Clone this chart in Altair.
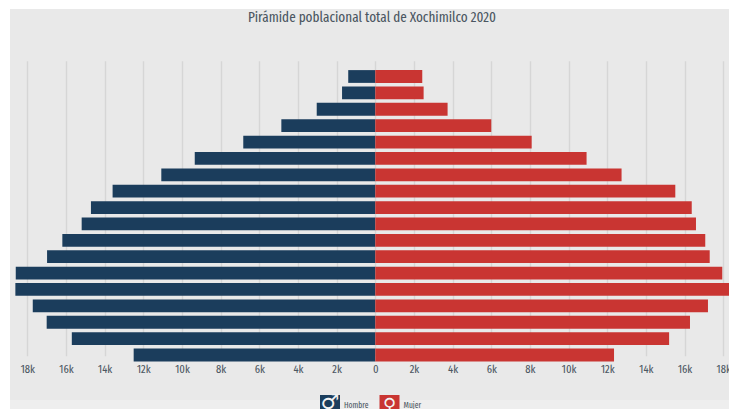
import altair as alt
import pandas as pd

FONT = "Fira Sans Extra Condensed"
INK = "#4b5661"
NAVY = "#1b3d5c"
RED = "#c93532"

age_groups = ["85+", "80-84", "75-79", "70-74", "65-69", "60-64", "55-59", "50-54", "45-49",
              "40-44", "35-39", "30-34", "25-29", "20-24", "15-19", "10-14", "5-9", "0-4"]
hombres = [1400, 1720, 3030, 4860, 6830, 9340, 11070, 13590, 14710,
           15190, 16190, 16980, 18600, 18620, 17720, 17000, 15700, 12500]
mujeres = [2430, 2500, 3740, 6000, 8090, 10930, 12740, 15520, 16370,
           16590, 17070, 17300, 17950, 18400, 17210, 16280, 15200, 12350]
tick_values = list(range(-18000, 18001, 2000))
chart_title = "Pirámide poblacional total de Xochimilco 2020"

pyramid = pd.DataFrame({
    "edad": age_groups * 2,
    "sexo": ["Hombre"] * len(age_groups) + ["Mujer"] * len(age_groups),
    "poblacion": [-v for v in hombres] + mujeres,
})

x_scale = alt.Scale(domain=[-19415, 18298], range=[0, 729], nice=False, zero=False)
y_scale = alt.Scale(domain=age_groups, range=[6.3, 301.2], paddingInner=0.22, paddingOuter=0.11)

blank = alt.Data(values=[{}])


def panel(color, x0, x1, y0, y1):
    # Flat rectangle placed in plot pixels, used for the page margins and the footer band
    return alt.Chart(blank).mark_rect(color=color, clip=False).encode(
        x=alt.value(x0), x2=alt.value(x1), y=alt.value(y0), y2=alt.value(y1)
    )


def label(text, x, y, **style):
    return alt.Chart(alt.Data(values=[{"s": text}])).mark_text(clip=False, **style).encode(
        x=alt.value(x), y=alt.value(y), text="s:N"
    )


def key(text, symbol, color, x0, size, glyph_y):
    # One legend entry: a coloured tile with the sex symbol and its caption beside it
    return [
        panel(color, x0, x0 + 20, 333, 355),
        label(symbol, x0 + 10, glyph_y, font="DejaVu Sans", fontSize=size, fontWeight="bold", color="#f2f2f2"),
        label(text, x0 + 24, 343.5, font=FONT, fontSize=8.2, color=INK, align="left"),
    ]


bars = alt.Chart(pyramid).mark_bar(clip=True).encode(
    x=alt.X("poblacion:Q", scale=x_scale, axis=alt.Axis(
        values=tick_values,
        labelExpr="datum.value == 0 ? '0' : abs(datum.value) / 1000 + 'k'",
        title=None, domain=False, ticks=False, labelPadding=1,
        labelFont=FONT, labelFontSize=11.5, labelColor=INK,
        grid=True, gridColor="#d6d6d6", gridWidth=1.4,
    )),
    y=alt.Y("edad:N", scale=y_scale, axis=None),
    color=alt.Color("sexo:N", scale=alt.Scale(domain=["Hombre", "Mujer"], range=[NAVY, RED]), legend=None),
)

layers = [
    panel("#ffffff", 0, 729, -62, -53),
    panel("#ffffff", 0, 10, -62, 347),
    panel("#eeeeee", 10, 729, 338, 347),
    bars,
    label(chart_title, 372, -44, font=FONT, fontSize=14.3, color=INK),
    *key("Hombre", "\u2642", NAVY, 320, 21, 341),
    *key("Mujer", "\u2640", RED, 379.5, 18, 343.5),
]

chart = alt.layer(*layers).properties(
    width=729,
    height=300,
    padding={"left": 0, "right": 0, "top": 62, "bottom": 47},
    autosize=alt.AutoSizeParams(type="none"),
    background="#e9e9e9",
).configure_view(stroke=None)

chart.save("out.html", embed_options={"renderer": "svg", "actions": False})
